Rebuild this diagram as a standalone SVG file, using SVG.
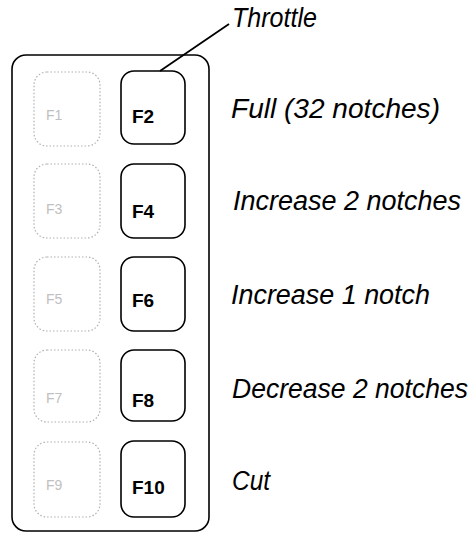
<svg xmlns="http://www.w3.org/2000/svg" width="471" height="533" viewBox="0 0 471 533">
<style>
.panel{fill:#fff;stroke:#000;stroke-width:1.6}
.key{fill:#fff;stroke:#000;stroke-width:1.6}
.ghost{fill:none;stroke:#b0b0b0;stroke-width:1.2;stroke-dasharray:1.5 2}
.kt{font-family:"Liberation Sans",Arial,sans-serif;font-weight:bold;font-size:19px;fill:#000}
.gt{font-family:"Liberation Sans",Arial,sans-serif;font-size:14px;fill:#c0c0c0}
.lbl{font-family:"Liberation Sans",Arial,sans-serif;font-style:italic;font-size:27px;fill:#000}
.lead{stroke:#000;stroke-width:1.8;fill:none}
</style>
<rect width="471" height="533" fill="#fff"/>
<g id="panel"><rect class="panel" x="12" y="55" width="197" height="476" rx="14"/></g>
<g id="f1"><rect class="ghost" x="34" y="72" width="66" height="74" rx="13"/><text class="gt" x="46" y="120">F1</text></g>
<g id="f2"><rect class="key" x="121" y="71" width="64" height="73" rx="13"/><text class="kt" x="132" y="123">F2</text></g>
<g id="f3"><rect class="ghost" x="34" y="164" width="66" height="74" rx="13"/><text class="gt" x="46" y="214">F3</text></g>
<g id="f4"><rect class="key" x="121" y="164" width="64" height="74" rx="13"/><text class="kt" x="132" y="218">F4</text></g>
<g id="f5"><rect class="ghost" x="34" y="257" width="66" height="74" rx="13"/><text class="gt" x="46" y="304">F5</text></g>
<g id="f6"><rect class="key" x="121" y="257" width="64" height="74" rx="13"/><text class="kt" x="132" y="307">F6</text></g>
<g id="f7"><rect class="ghost" x="34" y="350" width="66" height="72" rx="13"/><text class="gt" x="46" y="403">F7</text></g>
<g id="f8"><rect class="key" x="121" y="350" width="64" height="71" rx="13"/><text class="kt" x="132" y="407">F8</text></g>
<g id="f9"><rect class="ghost" x="34" y="442" width="66" height="75" rx="13"/><text class="gt" x="46" y="490">F9</text></g>
<g id="f10"><rect class="key" x="121" y="441" width="64" height="76" rx="13"/><text class="kt" x="132" y="494">F10</text></g>
<g id="connectors"><path class="lead" d="M160 71 L229 24"/></g>
<g id="labels">
<text class="lbl" x="232" y="27" textLength="85" lengthAdjust="spacingAndGlyphs">Throttle</text>
<text class="lbl" x="231" y="118" textLength="209" lengthAdjust="spacingAndGlyphs">Full (32 notches)</text>
<text class="lbl" x="233" y="210" textLength="228" lengthAdjust="spacingAndGlyphs">Increase 2 notches</text>
<text class="lbl" x="231" y="304" textLength="199" lengthAdjust="spacingAndGlyphs">Increase 1 notch</text>
<text class="lbl" x="232" y="398" textLength="236" lengthAdjust="spacingAndGlyphs">Decrease 2 notches</text>
<text class="lbl" x="232" y="490" textLength="38" lengthAdjust="spacingAndGlyphs">Cut</text>
</g>
</svg>
